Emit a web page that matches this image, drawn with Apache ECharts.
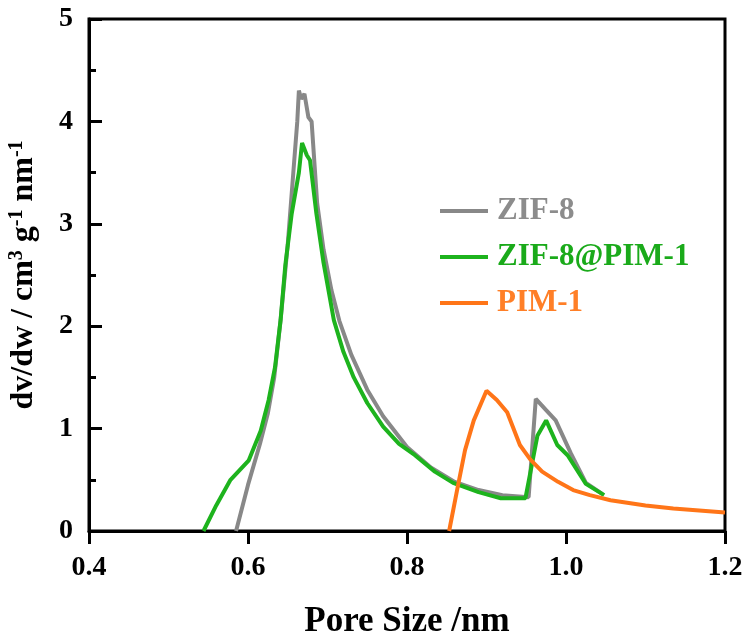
<!DOCTYPE html>
<html>
<head>
<meta charset="utf-8">
<script src="https://cdn.jsdelivr.net/npm/echarts@6/dist/echarts.min.js"></script>
<style>html,body{margin:0;padding:0;background:#fff;}#c{width:746px;height:641px;}</style>
</head>
<body>
<div id="c"></div>
<script>
const seriesNames = ['ZIF-8', 'ZIF-8@PIM-1', 'PIM-1'];
const xTicks = [0.4, 0.6, 0.8, 1.0, 1.2];
const yTicks = [0, 1, 2, 3, 4, 5];

const zif8 = [
  [0.585,0],[0.600,0.45],[0.615,0.85],[0.625,1.15],[0.633,1.5],[0.641,2.06],[0.650,2.8],[0.657,3.5],
  [0.662,4.0],[0.664,4.30],[0.667,4.22],[0.671,4.27],[0.676,4.04],[0.680,4.00],[0.687,3.20],[0.695,2.75],
  [0.705,2.35],[0.715,2.05],[0.73,1.72],[0.75,1.38],[0.77,1.12],[0.80,0.82],[0.83,0.62],[0.86,0.48],
  [0.89,0.40],[0.92,0.35],[0.953,0.33],[0.962,1.29],[0.975,1.18],[0.987,1.08],[1.006,0.76],[1.025,0.47],[1.046,0.36]
];
const zif8pim1 = [
  [0.544,0],[0.560,0.25],[0.578,0.50],[0.601,0.69],[0.616,0.98],[0.626,1.28],[0.634,1.6],[0.641,2.06],
  [0.647,2.6],[0.655,3.1],[0.664,3.50],[0.668,3.79],[0.674,3.67],[0.678,3.62],[0.686,3.1],[0.695,2.62],
  [0.708,2.06],[0.72,1.75],[0.733,1.50],[0.75,1.25],[0.77,1.02],[0.79,0.85],[0.81,0.74],[0.835,0.58],
  [0.858,0.47],[0.89,0.38],[0.918,0.32],[0.949,0.32],[0.964,0.93],[0.975,1.08],[0.989,0.84],[1.002,0.74],
  [1.025,0.46],[1.048,0.35]
];
const pim1 = [
  [0.853,0],[0.863,0.4],[0.873,0.79],[0.884,1.08],[0.900,1.37],[0.913,1.28],[0.926,1.16],[0.942,0.84],
  [0.955,0.70],[0.970,0.58],[0.99,0.48],[1.009,0.40],[1.03,0.35],[1.056,0.30],[1.10,0.25],[1.135,0.22],[1.20,0.18]
];

const lineColors = ['#888888', '#1db31d', '#ff7518'];
const textColors = ['#8c8c8c', '#1aaa1a', '#ff7f27'];
const FONT = '"Liberation Serif", "Times New Roman", serif';

const chart = echarts.init(document.getElementById('c'), null, {renderer: 'canvas'});
const dataSets = [zif8, zif8pim1, pim1];

chart.setOption({
  animation: false,
  backgroundColor: '#fff',
  grid: {left: 89, right: 21, top: 19, bottom: 110, show: true, borderColor: '#000', borderWidth: 3,
    containLabel: false, outerBoundsMode: 'none'},
  legend: {
    orient: 'vertical', left: 435, top: 190,
    itemWidth: 48, itemHeight: 4, itemGap: 14,
    icon: 'rect',
    textStyle: {fontFamily: FONT, fontWeight: 'bold', fontSize: 31, lineHeight: 32, padding: [0,0,0,4]},
    data: seriesNames.map((n, i) => ({name: n, textStyle: {color: textColors[i]}}))
  },
  xAxis: {
    type: 'value', min: xTicks[0], max: xTicks[xTicks.length-1], interval: 0.2,
    axisLine: {lineStyle: {color: '#000', width: 3}},
    axisTick: {inside: false, length: 13, lineStyle: {color: '#000', width: 3}},
    axisLabel: {color: '#000', fontFamily: FONT, fontWeight: 'bold', fontSize: 28, margin: 23,
      formatter: v => v.toFixed(1)},
    splitLine: {show: false},
    name: 'Pore Size /nm', nameLocation: 'middle', nameGap: 73,
    nameTextStyle: {color: '#000', fontFamily: FONT, fontWeight: 'bold', fontSize: 35}
  },
  yAxis: {
    type: 'value', min: yTicks[0], max: yTicks[yTicks.length-1], interval: 1,
    axisLine: {lineStyle: {color: '#000', width: 3}},
    axisTick: {inside: true, length: 13, lineStyle: {color: '#000', width: 3}},
    minorTick: {show: true, splitNumber: 2, length: 7, lineStyle: {color: '#000', width: 3}},
    axisLabel: {color: '#000', fontFamily: FONT, fontWeight: 'bold', fontSize: 28, margin: 16},
    splitLine: {show: false},
    name: 'dv/dw / cm{sup|3} g{sup|-1} nm{sup|-1}', nameLocation: 'middle', nameGap: 48,
    nameTextStyle: {color: '#000', fontFamily: FONT, fontWeight: 'bold', fontSize: 32,
      rich: {sup: {fontFamily: FONT, fontWeight: 'bold', fontSize: 20, verticalAlign: 'top', padding: [0,0,14,0], color: '#000'}}}
  },
  series: dataSets.map((d, i) => ({
    name: seriesNames[i], type: 'line', data: d, showSymbol: false, symbol: 'none',
    lineStyle: {color: lineColors[i], width: 4}, itemStyle: {color: lineColors[i]}, z: 2 + i
  }))
});
</script>
</body>
</html>
